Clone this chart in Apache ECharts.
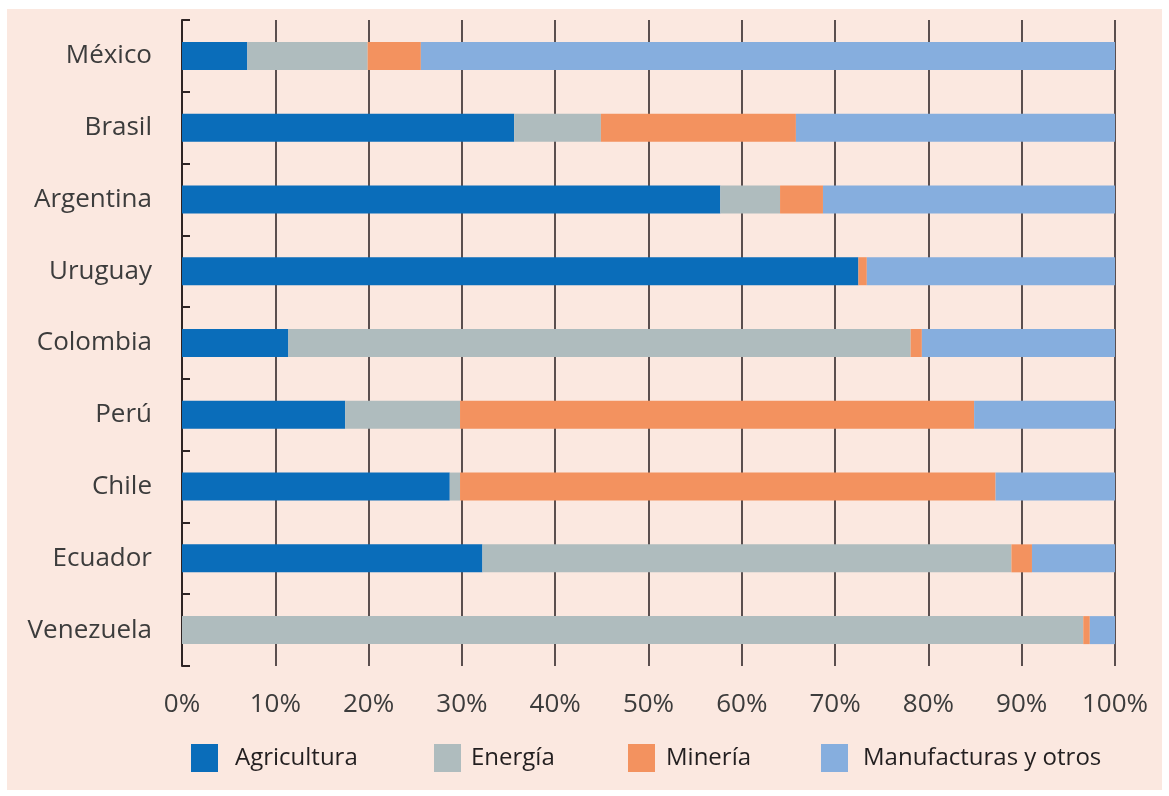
<!DOCTYPE html>
<html>
<head>
<meta charset="utf-8">
<script src="https://cdn.jsdelivr.net/npm/echarts@6/dist/echarts.min.js"></script>
<style>
  html, body { margin: 0; padding: 0; background: #ffffff; }
  #bg { position: absolute; left: 7px; top: 9px; width: 1155px; height: 781px; background: #fbe8e0; }
  #chart { position: absolute; left: 0; top: 0; width: 1169px; height: 796px; }
</style>
</head>
<body>
<div id="bg"></div>
<div id="chart"></div>
<script>
const categories = ['México', 'Brasil', 'Argentina', 'Uruguay', 'Colombia', 'Perú', 'Chile', 'Ecuador', 'Venezuela'];
const seriesNames = ['Agricultura', 'Energía', 'Minería', 'Manufacturas y otros'];
const agricultura = [7.0, 35.6, 57.7, 72.5, 11.4, 17.5, 28.7, 32.2, 0];
const energia = [12.9, 9.3, 6.4, 0, 66.7, 12.3, 1.1, 56.7, 96.6];
const mineria = [5.7, 20.9, 4.6, 0.9, 1.2, 55.1, 57.4, 2.2, 0.7];
const manufacturas = [74.4, 34.2, 31.3, 26.6, 20.7, 15.1, 12.8, 8.9, 2.7];
const xTicks = [0, 10, 20, 30, 40, 50, 60, 70, 80, 90, 100];

const colors = ['#0a6dba', '#afbcbe', '#f3925f', '#86aede'];
const seriesData = [agricultura, energia, mineria, manufacturas];
const font = '"Open Sans", "Noto Sans", sans-serif';

const chart = echarts.init(document.getElementById('chart'), null, { renderer: 'canvas' });

const legendLefts = [191, 434, 628, 821];
const legendPads = [12, 5, 6, 10];

const option = {
  backgroundColor: 'transparent',
  animation: false,
  grid: { left: 182, right: 54, top: 20, bottom: 130, containLabel: false },
  xAxis: {
    type: 'value',
    min: xTicks[0],
    max: xTicks[xTicks.length - 1],
    interval: 10,
    axisLine: { show: false },
    axisTick: { show: false },
    splitLine: { show: true, lineStyle: { color: '#33272a', width: 1.6 } },
    axisLabel: {
      formatter: '{value}%',
      color: '#3c3c3c',
      fontFamily: font,
      fontSize: 26,
      margin: 26
    }
  },
  yAxis: {
    type: 'category',
    data: categories,
    inverse: true,
    axisLine: { show: true, lineStyle: { color: '#2e2424', width: 2 } },
    axisTick: { show: true, inside: true, length: 8, interval: 0, lineStyle: { color: '#2e2424', width: 2 } },
    axisLabel: {
      color: '#3c3c3c',
      fontFamily: font,
      fontSize: 26,
      margin: 30
    },
    splitLine: { show: false }
  },
  legend: seriesNames.map((n, i) => ({
    data: [n],
    left: legendLefts[i],
    top: 744,
    itemWidth: 27,
    itemHeight: 28,
    icon: 'rect',
    padding: 0,
    selectedMode: false,
    textStyle: {
      color: '#231f20',
      fontFamily: font,
      fontSize: 24,
      padding: [0, 0, 0, legendPads[i]]
    }
  })),
  series: seriesNames.map((n, i) => ({
    name: n,
    type: 'bar',
    stack: 'total',
    barWidth: 28,
    data: seriesData[i],
    itemStyle: { color: colors[i] },
    emphasis: { disabled: true }
  }))
};

chart.setOption(option);
</script>
</body>
</html>
